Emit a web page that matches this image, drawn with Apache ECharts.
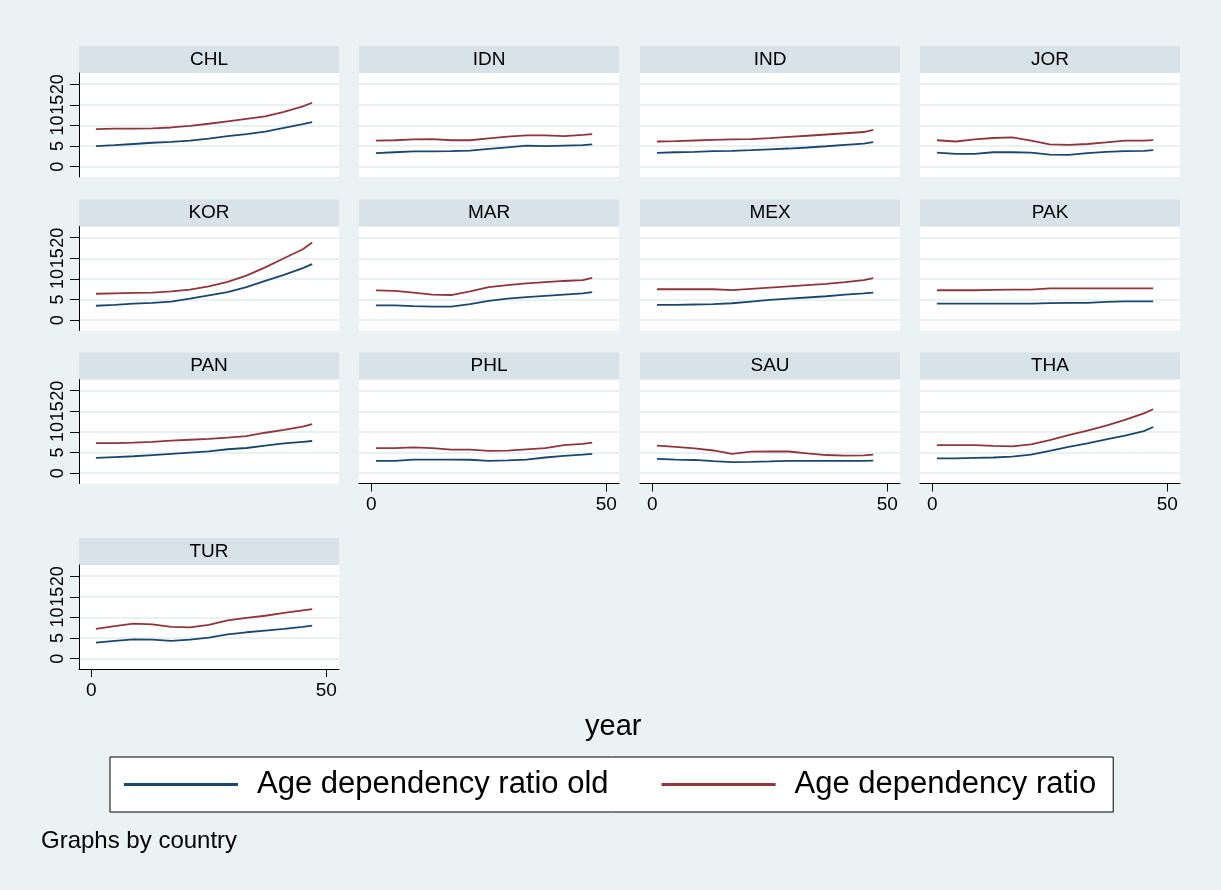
<!DOCTYPE html>
<html>
<head>
<meta charset="utf-8">
<script src="https://cdn.jsdelivr.net/npm/echarts@6/dist/echarts.min.js"></script>
<style>
  body { margin: 0; background: #fff; }
  #main { width: 1221px; height: 890px; }
</style>
</head>
<body>
<div id="main"></div>
<script type="text/javascript">
    // years sampled along the x axis (index 1..47)
    var years = [1, 5, 9, 13, 17, 21, 25, 29, 33, 37, 41, 45, 47];
    var countries = ['CHL', 'IDN', 'IND', 'JOR', 'KOR', 'MAR', 'MEX', 'PAK', 'PAN', 'PHL', 'SAU', 'THA', 'TUR'];
    var xTicks = [0, 50];
    var yTicks = [0, 5, 10, 15, 20];

    // Age dependency ratio old / Age dependency ratio
    var chlOld = [5.0, 5.2, 5.5, 5.8, 6.0, 6.3, 6.8, 7.4, 7.9, 8.5, 9.4, 10.3, 10.8];
    var chlAll = [9.1, 9.2, 9.2, 9.3, 9.5, 9.9, 10.4, 11.0, 11.6, 12.2, 13.3, 14.6, 15.5];
    var idnOld = [3.3, 3.5, 3.7, 3.7, 3.75, 3.9, 4.3, 4.7, 5.1, 5.0, 5.1, 5.2, 5.4];
    var idnAll = [6.3, 6.4, 6.6, 6.7, 6.4, 6.4, 6.85, 7.3, 7.6, 7.6, 7.4, 7.7, 7.9];
    var indOld = [3.35, 3.5, 3.6, 3.75, 3.85, 4.0, 4.2, 4.4, 4.65, 4.95, 5.3, 5.6, 5.95];
    var indAll = [6.1, 6.2, 6.35, 6.5, 6.6, 6.7, 6.9, 7.2, 7.5, 7.8, 8.1, 8.4, 8.9];
    var jorOld = [3.4, 3.1, 3.1, 3.5, 3.5, 3.4, 2.9, 2.85, 3.3, 3.6, 3.75, 3.85, 4.0];
    var jorAll = [6.4, 6.1, 6.6, 6.95, 7.1, 6.3, 5.4, 5.3, 5.5, 5.9, 6.3, 6.3, 6.45];
    var korOld = [3.5, 3.7, 4.0, 4.2, 4.5, 5.2, 6.0, 6.8, 8.0, 9.5, 11.0, 12.6, 13.6];
    var korAll = [6.4, 6.5, 6.6, 6.7, 7.0, 7.4, 8.2, 9.3, 10.8, 12.8, 15.0, 17.2, 18.8];
    var marOld = [3.6, 3.6, 3.4, 3.3, 3.3, 3.9, 4.7, 5.2, 5.6, 5.9, 6.2, 6.5, 6.8];
    var marAll = [7.2, 7.1, 6.7, 6.2, 6.1, 7.0, 8.0, 8.5, 8.9, 9.2, 9.5, 9.7, 10.25];
    var mexOld = [3.7, 3.7, 3.8, 3.9, 4.1, 4.5, 4.9, 5.2, 5.5, 5.8, 6.2, 6.5, 6.7];
    var mexAll = [7.5, 7.5, 7.5, 7.5, 7.3, 7.6, 7.9, 8.2, 8.5, 8.8, 9.2, 9.7, 10.2];
    var pakOld = [4.0, 4.0, 4.0, 4.0, 4.0, 4.0, 4.15, 4.2, 4.2, 4.45, 4.55, 4.55, 4.55];
    var pakAll = [7.25, 7.25, 7.25, 7.35, 7.4, 7.4, 7.7, 7.7, 7.7, 7.7, 7.7, 7.7, 7.7];
    var panOld = [3.7, 3.9, 4.1, 4.4, 4.7, 5.0, 5.3, 5.8, 6.1, 6.7, 7.2, 7.6, 7.8];
    var panAll = [7.3, 7.3, 7.4, 7.6, 7.9, 8.1, 8.3, 8.6, 9.0, 9.8, 10.5, 11.3, 11.9];
    var phlOld = [3.0, 3.0, 3.3, 3.3, 3.3, 3.25, 3.0, 3.1, 3.3, 3.8, 4.2, 4.5, 4.7];
    var phlAll = [6.05, 6.05, 6.25, 6.05, 5.7, 5.7, 5.4, 5.45, 5.75, 6.05, 6.8, 7.1, 7.4];
    var sauOld = [3.45, 3.3, 3.2, 2.9, 2.7, 2.75, 2.85, 3.0, 3.0, 3.0, 3.0, 3.0, 3.05];
    var sauAll = [6.7, 6.35, 6.0, 5.5, 4.7, 5.2, 5.25, 5.25, 4.8, 4.4, 4.25, 4.3, 4.5];
    var thaOld = [3.6, 3.6, 3.7, 3.8, 4.0, 4.5, 5.4, 6.4, 7.2, 8.2, 9.1, 10.2, 11.2];
    var thaAll = [6.8, 6.8, 6.8, 6.6, 6.5, 7.0, 8.0, 9.2, 10.3, 11.5, 12.9, 14.5, 15.5];
    var turOld = [3.9, 4.3, 4.7, 4.6, 4.3, 4.6, 5.1, 5.9, 6.4, 6.8, 7.2, 7.7, 8.0];
    var turAll = [7.2, 7.9, 8.5, 8.3, 7.7, 7.6, 8.2, 9.3, 9.9, 10.4, 11.1, 11.7, 12.0];

    var oldByCountry = { CHL: chlOld, IDN: idnOld, IND: indOld, JOR: jorOld, KOR: korOld, MAR: marOld, MEX: mexOld,
        PAK: pakOld, PAN: panOld, PHL: phlOld, SAU: sauOld, THA: thaOld, TUR: turOld };
    var allByCountry = { CHL: chlAll, IDN: idnAll, IND: indAll, JOR: jorAll, KOR: korAll, MAR: marAll, MEX: mexAll,
        PAK: pakAll, PAN: panAll, PHL: phlAll, SAU: sauAll, THA: thaAll, TUR: turAll };

    var nameOld = 'Age dependency ratio old';
    var nameAll = 'Age dependency ratio';

    // layout of the 4x4 panel grid (pixels)
    var colLeft = [79, 359, 640, 920];
    var rowTop = [73, 226.5, 379.5, 565];
    var plotW = 260, plotH = 104, headH = 27;
    var font = '"Liberation Sans", Arial, Helvetica, sans-serif';

    function pairs(vals) {
        return vals.map(function (v, k) { return [years[k], v]; });
    }

    var grid = [], xAxis = [], yAxis = [], series = [], graphic = [];
    countries.forEach(function (c, i) {
        var row = Math.floor(i / 4), col = i % 4;
        var left = colLeft[col], top = rowTop[row];
        var showX = i + 4 >= countries.length; // last panel in its column
        var showY = col === 0;

        grid.push({ left: left, top: top, width: plotW, height: plotH, show: true,
            backgroundColor: '#fff', borderWidth: 0 });

        xAxis.push({
            gridIndex: i, type: 'value', min: -2.6, max: 52.7,
            axisLine: { show: showX, onZero: false, lineStyle: { color: '#000', width: 1 } },
            axisTick: { show: showX, customValues: xTicks, length: 8, lineStyle: { color: '#000' } },
            axisLabel: { show: showX, customValues: xTicks, margin: 12, fontSize: 19, color: '#000',
                fontFamily: font, hideOverlap: false },
            splitLine: { show: false }
        });
        yAxis.push({
            gridIndex: i, type: 'value', min: -2.5, max: 22.7,
            axisLine: { show: showY, onZero: false, lineStyle: { color: '#000', width: 1 } },
            axisTick: { show: showY, customValues: yTicks, length: 9, lineStyle: { color: '#000' } },
            axisLabel: { show: showY, customValues: yTicks, rotate: 90, margin: 12, fontSize: 18, color: '#000',
                fontFamily: font, hideOverlap: false, showMinLabel: true, showMaxLabel: true },
            splitLine: { show: true, lineStyle: { color: '#eaf1f3', width: 2 } }
        });

        series.push({ name: nameOld, type: 'line', xAxisIndex: i, yAxisIndex: i, symbol: 'none',
            lineStyle: { color: '#1a476f', width: 1.8 }, itemStyle: { color: '#1a476f' },
            data: pairs(oldByCountry[c]) });
        series.push({ name: nameAll, type: 'line', xAxisIndex: i, yAxisIndex: i, symbol: 'none',
            lineStyle: { color: '#90353b', width: 1.8 }, itemStyle: { color: '#90353b' },
            data: pairs(allByCountry[c]) });

        // panel header strip
        graphic.push({ type: 'rect', shape: { x: left, y: top - headH, width: plotW, height: headH },
            style: { fill: '#d7e3e9' }, silent: true });
        graphic.push({ type: 'text', x: left + plotW / 2, y: top - headH / 2,
            style: { text: c, fill: '#000', font: '19px ' + font, align: 'center', verticalAlign: 'middle' }, silent: true });
    });

    var option = {
        animation: false,
        backgroundColor: '#eaf2f3',
        title: [
            { text: 'year', left: 585, top: 712, padding: 0,
              textStyle: { fontSize: 29, fontWeight: 'normal', color: '#000', fontFamily: font } },
            { text: 'Graphs by country', left: 41, top: 829, padding: 0,
              textStyle: { fontSize: 24, fontWeight: 'normal', color: '#000', fontFamily: font } }
        ],
        legend: {
            data: [nameOld, nameAll],
            left: 110, top: 757,
            padding: [12, 17, 12, 14],
            itemGap: 53, itemWidth: 114, itemHeight: 3, icon: 'rect',
            backgroundColor: '#fff', borderColor: '#000', borderWidth: 1,
            textStyle: { fontSize: 31, color: '#000', fontFamily: font, padding: [0, 0, 0, 14] }
        },
        grid: grid,
        xAxis: xAxis,
        yAxis: yAxis,
        graphic: graphic,
        series: series
    };

    var myChart = echarts.init(document.getElementById('main'));
    myChart.setOption(option);
</script>
</body>
</html>
